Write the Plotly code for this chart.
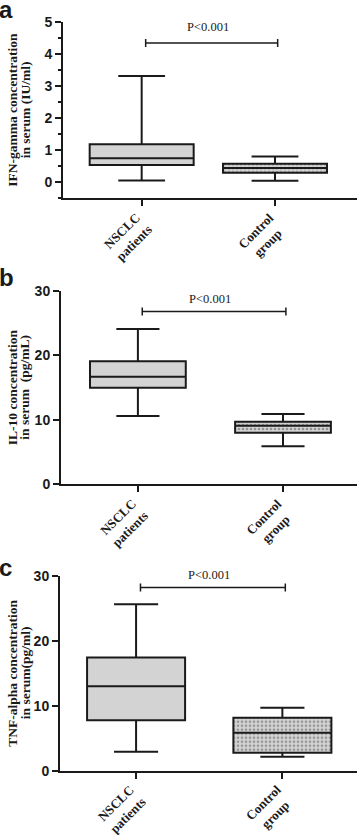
import plotly.graph_objects as go

# ---------------- data ----------------
categories = ["NSCLC<br>patients", "Control<br>group"]

# Panel a: IFN-gamma (IU/ml)
ifn_q1 = [0.54, 0.30]
ifn_median = [0.75, 0.45]
ifn_q3 = [1.19, 0.58]
ifn_min = [0.06, 0.05]
ifn_max = [3.32, 0.81]

# Panel b: IL-10 (pg/mL)
il10_q1 = [15.0, 8.0]
il10_median = [16.7, 9.1]
il10_q3 = [19.1, 9.7]
il10_min = [10.6, 5.9]
il10_max = [24.1, 10.9]

# Panel c: TNF-alpha (pg/ml)
tnf_q1 = [7.75, 2.77]
tnf_median = [13.0, 5.85]
tnf_q3 = [17.4, 8.15]
tnf_min = [2.9, 2.15]
tnf_max = [25.6, 9.7]

# significance brackets
bracket_y = [4.35, 26.8, 28.2]
p_text = ["P<0.001", "P<0.001", "P<0.001"]

panel_letters = ["a", "b", "c"]
ytitle_line1 = ["IFN-gamma concentration", "IL-10 concentration", "TNF-alpha concentration"]
ytitle_line2 = ["in serum (IU/ml)", "in serum  (pg/mL)", "in serum(pg/ml)"]

# ---------------- layout geometry (pixels) ----------------
W, H = 358, 835
panels = [
    dict(q1=ifn_q1, med=ifn_median, q3=ifn_q3, lo=ifn_min, hi=ifn_max,
         yrange=[-0.5, 5], dtick=1, minor=0.5, ytop=22.3, ybot=198.3,
         xl=63, xr=357, xrange=[-0.59, 1.615], bw=0.78, pshift=16.5,
         letter_y=10, title_x=(12.5, 25)),
    dict(q1=il10_q1, med=il10_median, q3=il10_q3, lo=il10_min, hi=il10_max,
         yrange=[0, 30], dtick=10, minor=None, ytop=291, ybot=484.3,
         xl=61, xr=357, xrange=[-0.53, 1.51], bw=0.66, pshift=12.5,
         letter_y=277, title_x=(12.5, 25)),
    dict(q1=tnf_q1, med=tnf_median, q3=tnf_q3, lo=tnf_min, hi=tnf_max,
         yrange=[0, 30], dtick=10, minor=None, ytop=575.7, ybot=770.7,
         xl=60, xr=357, xrange=[-0.52, 1.51], bw=0.67, pshift=12,
         letter_y=567, title_x=(12.5, 25)),
]

FILL = "#d3d3d3"
INK = "#1a1a1a"
SANS = "Liberation Sans"
SERIF = "Liberation Serif"

fig = go.Figure()
annotations = []
shapes = []

for i, p in enumerate(panels):
    n = "" if i == 0 else str(i + 1)
    xa, ya = "x" + n, "y" + n

    # patterned fill for control group box (drawn beneath box outline)
    fig.add_trace(go.Bar(
        x=[categories[1]], base=[p["q1"][1]], y=[p["q3"][1] - p["q1"][1]],
        width=p["bw"], xaxis=xa, yaxis=ya, showlegend=False, hoverinfo="skip",
        marker=dict(color=FILL, line=dict(width=0),
                    pattern=dict(shape=".", fgcolor="#555555", bgcolor=FILL,
                                 size=4, solidity=0.35)),
    ))
    fills = [FILL, "rgba(0,0,0,0)"]
    for k in range(2):
        fig.add_trace(go.Box(
            x=[categories[k]], q1=[p["q1"][k]], median=[p["med"][k]], q3=[p["q3"][k]],
            lowerfence=[p["lo"][k]], upperfence=[p["hi"][k]],
            width=p["bw"], whiskerwidth=0.45, boxpoints=False,
            fillcolor=fills[k], line=dict(color=INK, width=2),
            xaxis=xa, yaxis=ya, showlegend=False, hoverinfo="skip",
        ))

    ydom = [(H - p["ybot"]) / H, (H - p["ytop"]) / H]
    xdom = [p["xl"] / W, p["xr"] / W]
    yaxis = dict(domain=ydom, range=p["yrange"], dtick=p["dtick"], tick0=0,
                 showline=True, linecolor=INK, linewidth=2, ticks="outside",
                 ticklen=6, tickwidth=2, tickcolor=INK, showgrid=False, zeroline=False,
                 anchor=xa, automargin=False,
                 tickfont=dict(family=SANS, size=14, color=INK, weight="bold"))
    if p["minor"]:
        yaxis["minor"] = dict(dtick=p["minor"], tick0=0, ticks="outside",
                              ticklen=3, tickwidth=2, tickcolor=INK, showgrid=False)
    xaxis = dict(domain=xdom, range=p["xrange"], type="category",
                 categoryorder="array", categoryarray=categories,
                 showline=True, linecolor=INK, linewidth=2, ticks="outside",
                 ticklen=6, tickwidth=2, tickcolor=INK, showgrid=False,
                 showticklabels=False, anchor=ya, automargin=False)
    fig.update_layout({("yaxis" + n): yaxis, ("xaxis" + n): xaxis})

    # rotated category labels
    for cat in categories:
        annotations.append(dict(xref=xa, yref="paper", x=cat, y=(H - p["ybot"]) / H,
                                text="<b>" + cat.replace("<br>", "</b><br><b>") + "</b>",
                                showarrow=False, textangle=-45, xanchor="right",
                                yanchor="top", xshift=16, yshift=-9,
                                font=dict(family=SERIF, size=13, color=INK)))

    # significance bracket
    by = bracket_y[i]
    shapes.append(dict(type="line", xref=xa, yref=ya, x0=0.03, x1=1.02, y0=by, y1=by,
                       line=dict(color=INK, width=1.5)))
    for xe in (0.03, 1.02):
        shapes.append(dict(type="line", xref=xa, yref=ya, ysizemode="pixel", yanchor=by,
                           x0=xe, x1=xe, y0=-4, y1=4, line=dict(color=INK, width=1.5)))
    annotations.append(dict(xref=xa, yref=ya, x=0.5, y=by, text=p_text[i],
                            showarrow=False, yanchor="middle", yshift=p["pshift"],
                            font=dict(family=SERIF, size=12.5, color=INK)))

    # panel letter
    annotations.append(dict(xref="paper", yref="paper", x=0, y=(H - p["letter_y"]) / H,
                            text="<b>" + panel_letters[i] + "</b>", showarrow=False,
                            xanchor="left", yanchor="middle", xshift=-3,
                            font=dict(family=SANS, size=24, color=INK)))

    # y-axis titles (two lines)
    ymid = (H - (p["ytop"] + p["ybot"]) / 2) / H
    for line_text, tx in zip((ytitle_line1[i], ytitle_line2[i]), p["title_x"]):
        annotations.append(dict(xref="paper", yref="paper", x=tx / W, y=ymid,
                                text="<b>" + line_text + "</b>", showarrow=False, textangle=-90,
                                xanchor="center", yanchor="middle",
                                font=dict(family=SERIF, size=13.5, color=INK)))

fig.update_layout(
    width=W, height=H, margin=dict(l=0, r=0, t=0, b=0, pad=0),
    paper_bgcolor="white", plot_bgcolor="white",
    boxmode="overlay", barmode="overlay", showlegend=False,
    annotations=annotations, shapes=shapes,
)

fig.write_html("out.html", config={"displayModeBar": False, "staticPlot": True},
               post_script="document.body.style.margin='0px';document.body.style.padding='0px';"
                           "document.body.style.overflow='hidden';")
